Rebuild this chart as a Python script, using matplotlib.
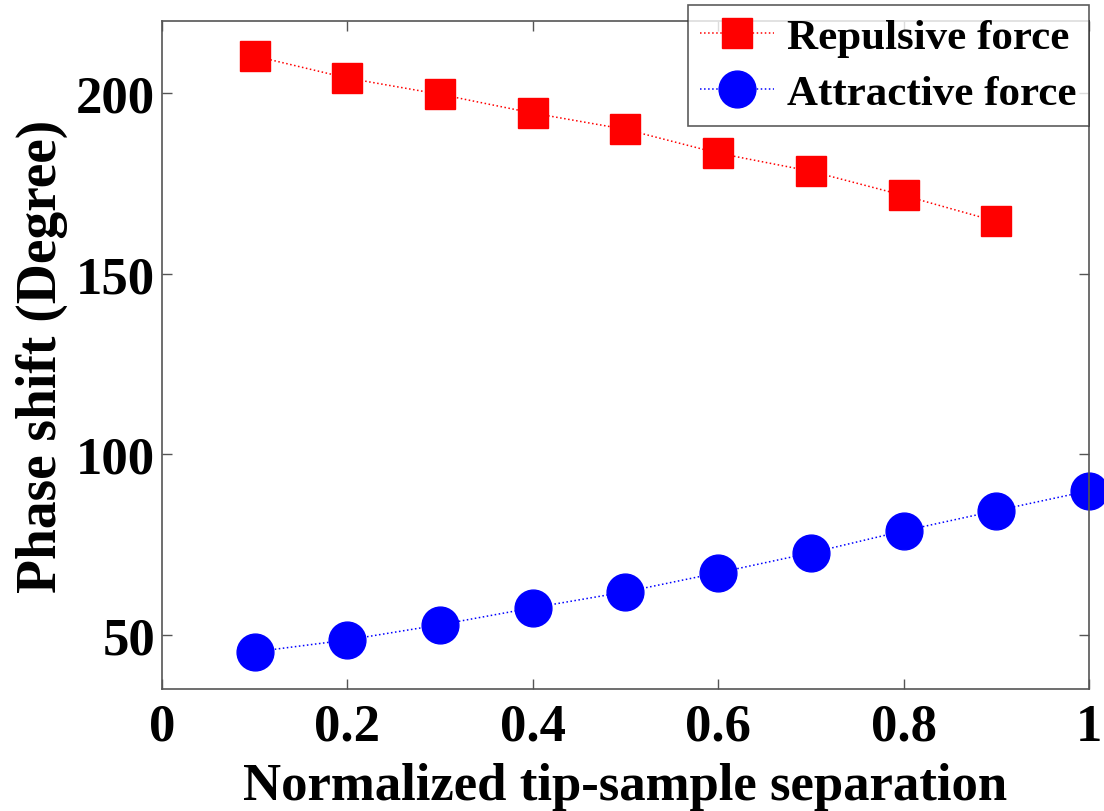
import matplotlib.pyplot as plt
import numpy as np

# data
x_rep = [0.1, 0.2, 0.3, 0.4, 0.5, 0.6, 0.7, 0.8, 0.9]
repulsive = [210.3, 204.2, 199.7, 194.5, 190.0, 183.4, 178.4, 171.7, 164.5]
x_att = [0.1, 0.2, 0.3, 0.4, 0.5, 0.6, 0.7, 0.8, 0.9, 1.0]
attractive = [45.3, 48.6, 52.8, 57.5, 61.9, 67.2, 72.7, 78.8, 84.4, 89.9]
xticks = [0, 0.2, 0.4, 0.6, 0.8, 1.0]
xticklabels = ['0', '0.2', '0.4', '0.6', '0.8', '1']
yticks = [50, 100, 150, 200]

plt.rcParams['font.family'] = ['Liberation Serif', 'DejaVu Serif']
plt.rcParams['font.weight'] = 'bold'

fig = plt.figure(figsize=(11.04, 8.12), dpi=100)
ax = fig.add_axes([0.1467, 0.1502, 0.8397, 0.8227])

ax.plot(x_rep, repulsive, color='red', ls=':', lw=1.1, marker='s', ms=21.5,
        mfc='red', mec='red', label='Repulsive force')
ax.plot(x_att, attractive, color='blue', ls=':', lw=1.1, marker='o', ms=26.5,
        mfc='blue', mec='blue', label='Attractive force', clip_on=False)

ax.set_xlim(0, 1)
ax.set_ylim(35, 220)
ax.set_xticks(xticks)
ax.set_xticklabels(xticklabels)
ax.set_yticks(yticks)
ax.tick_params(direction='in', top=True, right=True, length=7, width=1,
               color='#555555', labelsize=38)
ax.tick_params(axis='x', pad=10)
ax.tick_params(axis='y', pad=5)
for s in ax.spines.values():
    s.set_color('#555555')
    s.set_linewidth(1.2)

ax.set_xlabel('Normalized tip-sample separation', fontsize=38, fontweight='bold', labelpad=8)
ax.set_ylabel('Phase shift (Degree)', fontsize=40, fontweight='bold', labelpad=6)

leg = ax.legend(loc='upper right', bbox_to_anchor=(0.9864, 0.993),
                bbox_transform=fig.transFigure, fontsize=31, frameon=True,
                fancybox=False, edgecolor='#333333', borderpad=0.3,
                handlelength=1.7, handletextpad=0.3, labelspacing=0.4,
                borderaxespad=0, markerscale=1.0)
leg.get_frame().set_linewidth(1.2)

fig.savefig('out.png', dpi=100)
